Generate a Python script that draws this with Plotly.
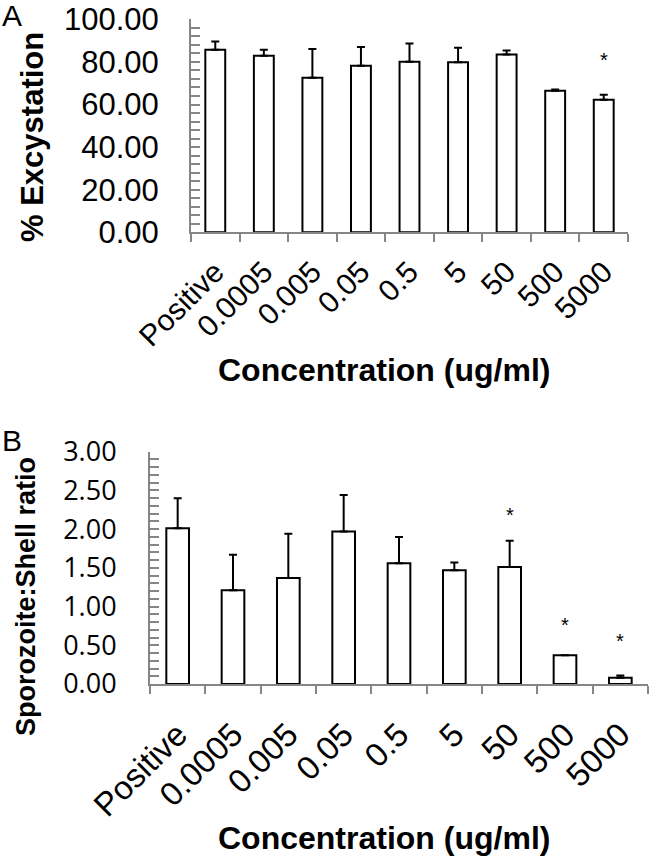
import plotly.graph_objects as go

categories = ["Positive", "0.0005", "0.005", "0.05", "0.5", "5", "50", "500", "5000"]

excystation = [85.7, 82.9, 72.6, 78.2, 80.1, 79.8, 83.5, 66.5, 62.2]
excystation_err = [3.9, 2.8, 13.5, 8.8, 8.5, 6.9, 1.8, 0.5, 2.4]
excystation_sig_cats = ["5000"]
excystation_sig_y = [81.0]

ratio = [2.01, 1.21, 1.37, 1.97, 1.56, 1.47, 1.51, 0.37, 0.08]
ratio_err = [0.39, 0.46, 0.57, 0.47, 0.34, 0.10, 0.34, 0.0, 0.03]
ratio_sig_cats = ["50", "500", "5000"]
ratio_sig_y = [2.18, 0.76, 0.56]

ticks_a = [0, 20, 40, 60, 80, 100]
ticks_b = [0, 0.5, 1.0, 1.5, 2.0, 2.5, 3.0]

W, H = 650, 857
ARIAL = "Liberation Sans, Arial, sans-serif"
GRAY = "#868686"


def px_x(p):
    return p / W


def px_y(p):
    return 1 - p / H


fig = go.Figure()

bar_style = dict(marker=dict(color="white", line=dict(color="black", width=2)),
                 showlegend=False)

fig.add_trace(go.Bar(
    x=categories, y=excystation, xaxis="x", yaxis="y",
    error_y=dict(type="data", array=excystation_err, arrayminus=[0] * len(categories),
                 symmetric=False, color="black", thickness=2, width=4),
    **bar_style))

fig.add_trace(go.Bar(
    x=categories, y=ratio, xaxis="x2", yaxis="y2",
    error_y=dict(type="data", array=ratio_err, arrayminus=[0] * len(categories),
                 symmetric=False, color="black", thickness=2, width=4),
    **bar_style))

xcommon = dict(type="category", tickson="boundaries", ticks="outside", ticklen=8,
               tickwidth=2, tickcolor=GRAY, showline=True, linecolor=GRAY, linewidth=2,
               showgrid=False, zeroline=False, tickangle=-45, fixedrange=True,
               automargin=False, range=[-0.5, len(categories) - 0.5],
               categoryorder="array", categoryarray=categories)

ycommon = dict(ticks="inside", ticklen=9, tickwidth=1.5, tickcolor=GRAY, showline=True,
               linecolor=GRAY, linewidth=2, showgrid=False, zeroline=False,
               tickformat=".2f", fixedrange=True, automargin=False)

fig.update_layout(
    width=W, height=H,
    margin=dict(l=0, r=0, t=0, b=0, autoexpand=False),
    paper_bgcolor="white", plot_bgcolor="white",
    bargap=0.59,
    font=dict(family=ARIAL, color="black"),
    xaxis=dict(domain=[px_x(191), px_x(628)], anchor="y", ticklabelstandoff=8,
               tickfont=dict(family=ARIAL, size=30, color="black"), **xcommon),
    yaxis=dict(domain=[px_y(232.3), px_y(19.3)], anchor="x", range=[0, 100],
               tickvals=ticks_a, ticklabelstandoff=24,
               minor=dict(dtick=4, ticks="inside", ticklen=9, tickwidth=1.5, tickcolor=GRAY),
               tickfont=dict(family=ARIAL, size=31, color="black"), **ycommon),
    xaxis2=dict(domain=[px_x(150), px_x(648)], anchor="y2", ticklabelstandoff=16,
                tickfont=dict(family=ARIAL, size=33, color="black"), **xcommon),
    yaxis2=dict(domain=[px_y(684), px_y(451.7)], anchor="x2", range=[0, 3],
                tickvals=ticks_b, ticklabelstandoff=26,
                minor=dict(dtick=0.1, ticks="inside", ticklen=9, tickwidth=1.5, tickcolor=GRAY),
                tickfont=dict(family="Open Sans, sans-serif", size=27, color="black"),
                **ycommon),
)

annotations = []
for c, yv in zip(excystation_sig_cats, excystation_sig_y):
    annotations.append(dict(x=categories.index(c), y=yv, xref="x", yref="y", text="*",
                            showarrow=False, font=dict(size=20, family=ARIAL, color="black"),
                            yanchor="middle"))
for c, yv in zip(ratio_sig_cats, ratio_sig_y):
    annotations.append(dict(x=categories.index(c), y=yv, xref="x2", yref="y2", text="*",
                            showarrow=False, font=dict(size=20, family=ARIAL, color="black"),
                            yanchor="middle"))

annotations += [
    dict(text="A", x=px_x(0), y=px_y(16), xref="paper", yref="paper", xanchor="left",
         yanchor="middle", showarrow=False, font=dict(size=30, family=ARIAL, color="black")),
    dict(text="B", x=px_x(0), y=px_y(440), xref="paper", yref="paper", xanchor="left",
         yanchor="middle", showarrow=False, font=dict(size=30, family=ARIAL, color="black")),
    dict(text="<b>% Excystation</b>", x=px_x(33), y=px_y(137), xref="paper", yref="paper",
         textangle=-90, showarrow=False, font=dict(size=31, family=ARIAL, color="black"),
         xanchor="center", yanchor="middle"),
    dict(text="<b>Sporozoite:Shell ratio</b>", x=px_x(26), y=px_y(597), xref="paper",
         yref="paper", textangle=-90, showarrow=False,
         font=dict(size=27, family=ARIAL, color="black"),
         xanchor="center", yanchor="middle"),
    dict(text="<b>Concentration (ug/ml)</b>", x=px_x(384), y=px_y(370), xref="paper",
         yref="paper", showarrow=False, font=dict(size=32, family=ARIAL, color="black"),
         xanchor="center", yanchor="middle"),
    dict(text="<b>Concentration (ug/ml)</b>", x=px_x(384), y=px_y(838), xref="paper",
         yref="paper", showarrow=False, font=dict(size=32, family=ARIAL, color="black"),
         xanchor="center", yanchor="middle"),
]
fig.update_layout(annotations=annotations)

fig.write_html("out.html", config={"displayModeBar": False},
               post_script="document.body.style.margin='0';")
